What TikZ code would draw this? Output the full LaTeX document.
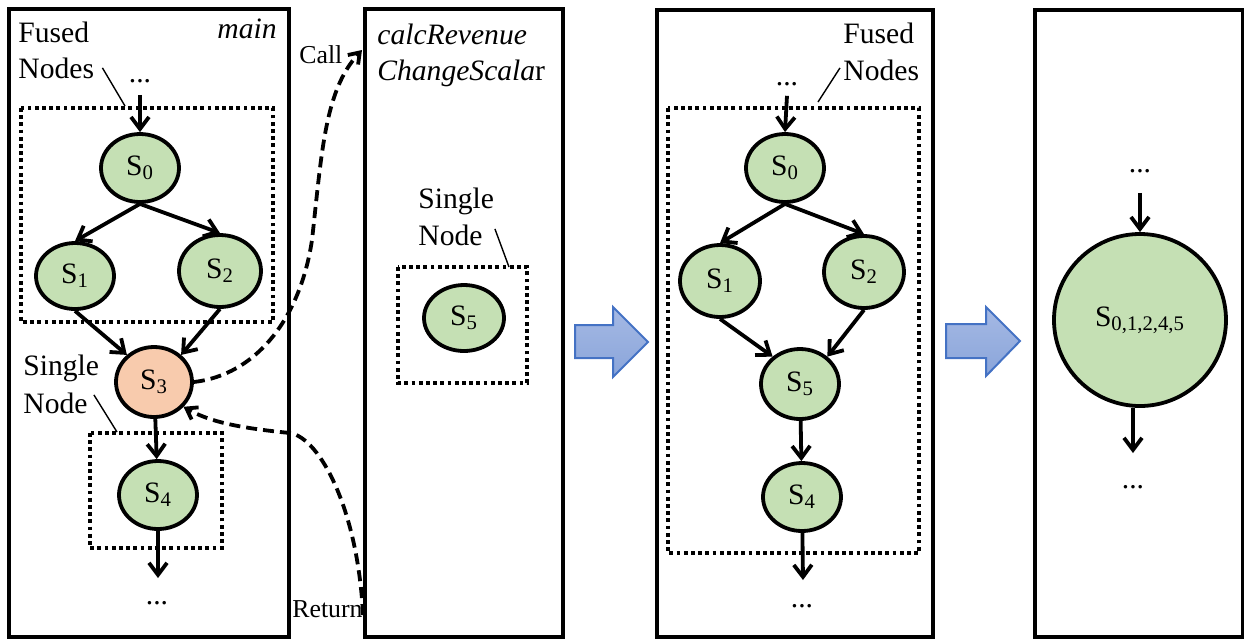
\documentclass[tikz,border=0pt]{standalone}
\usepackage{fontspec}
\setmainfont{Liberation Serif}
\usetikzlibrary{arrows.meta,shapes.geometric}
\definecolor{sgreen}{HTML}{C5E0B4}
\definecolor{sorange}{HTML}{F8CBAD}
\definecolor{blight}{HTML}{A5B9E4}
\definecolor{bdark}{HTML}{8AA5DA}
\definecolor{bdraw}{HTML}{4472C4}
\begin{document}
\begin{tikzpicture}[x=0.5pt,y=-0.5pt,
  font=\fontsize{14.8}{19}\selectfont,
  panel/.style={draw, line width=1.9pt},
  fusebox/.style={draw, line width=1.9pt, dash pattern=on 1.9pt off 1.7pt},
  snode/.style={ellipse, draw, line width=1.9pt, fill=sgreen, inner sep=0pt},
  flow/.style={line width=1.9pt, -{Straight Barb[length=6pt,width=9pt]}},
  callflow/.style={line width=1.9pt, dash pattern=on 5.5pt off 3pt, -{Straight Barb[length=5pt,width=7pt]}},
  pointer/.style={line width=0.7pt},
  txt/.style={inner sep=0pt, anchor=base west},
  smalltxt/.style={inner sep=0pt, anchor=base west, font=\fontsize{12.9}{16}\selectfont},
  dots/.style={inner sep=0pt, anchor=base},
  blockarrow/.style={draw=bdraw, line width=1pt, top color=blight, bottom color=bdark},
]
\useasboundingbox (0,0) rectangle (1244,639);

% panels
\draw[panel] (9,9) rectangle (289,637);
\draw[panel] (365,9) rectangle (563,637);
\draw[panel] (657,10) rectangle (933,637);
\draw[panel] (1035,10) rectangle (1243,637);

% ---------- panel 1 (main) ----------
\draw[fusebox] (21,108) rectangle (273,322);
\draw[fusebox] (90,433) rectangle (222,548);
\node[txt] (a-fused) at (18,42) {Fused};
\node[txt] (a-nodes) at (18,78) {Nodes};
\node[txt, anchor=base east] (a-main) at (277,38) {\textit{main}};
\node[dots] (a-top) at (140,82) {...};
\node[snode, minimum width=39pt, minimum height=34pt] (a0) at (140,168) {S\textsubscript{0}};
\node[snode, minimum width=39pt, minimum height=33pt] (a1) at (75,276) {S\textsubscript{1}};
\node[snode, minimum width=41pt, minimum height=36pt] (a2) at (220,271) {S\textsubscript{2}};
\node[snode, fill=sorange, minimum width=38pt, minimum height=35pt] (a3) at (154,382) {S\textsubscript{3}};
\node[snode, minimum width=39pt, minimum height=34pt] (a4) at (158,495) {S\textsubscript{4}};
\node[txt] (a-single) at (23,375) {Single};
\node[txt] (a-node) at (23,413) {Node};
\coordinate (a-end) at (158,578);
\node[dots] (a-bot) at (157,604) {...};
\coordinate (a-fp) at (125,106);
\coordinate (a-sp) at (117,432);
\draw[pointer] ([xshift=4pt]a-nodes.east) -- (a-fp);
\draw[pointer] ([xshift=3pt,yshift=4pt]a-node.east) -- (a-sp);
\draw[flow] ([yshift=-6pt]a-top.south) -- (a0.north);
\draw[flow] (a0.south) -- (a1.north);
\draw[flow] (a0.south) -- (a2.north);
\draw[flow] (a1.south) -- (a3.135);
\draw[flow] (a2.south) -- (a3.45);
\draw[flow] (a3) -- (a4);
\draw[flow] (a4) -- (a-end);

% call / return
\node[smalltxt] (call) at (299,63) {Call};
\node[smalltxt] (ret) at (292,617) {Return};
\coordinate (callend) at (362,50);
\coordinate (retstart) at (363,615);
\draw[callflow] (a3.east) .. controls (255,375) and (300,320) .. (312,240)
  .. controls (322,150) and (325,90) .. (callend);
\draw[callflow] (retstart) .. controls (358,510) and (320,438) .. (290,433)
  .. controls (240,428) and (210,422) .. (a3.-40);

% ---------- panel 2 ----------
\node[txt] (c-name1) at (377,44) {\textit{calcRevenue}};
\node[txt] (c-name2) at (377,80) {\textit{ChangeScala}r};
\node[txt] (c-single) at (418,208) {Single};
\node[txt] (c-node) at (418,245) {Node};
\draw[fusebox] (398,267) rectangle (527,383);
\node[snode, minimum width=40pt, minimum height=33pt] (c5) at (464,318) {S\textsubscript{5}};
\coordinate (c-sp) at (509,267);
\draw[pointer] ([xshift=6pt,yshift=3pt]c-node.east) -- (c-sp);

% block arrows
\draw[blockarrow] (575,325) -- (613,325) -- (613,307) -- (648,342) -- (613,377) -- (613,358) -- (575,358) -- cycle;
\draw[blockarrow] (946,324) -- (986,324) -- (986,307) -- (1020,341) -- (986,376) -- (986,358) -- (946,358) -- cycle;

% ---------- panel 3 ----------
\draw[fusebox] (668,108) rectangle (919,553);
\node[txt] (b-fused) at (843,43) {Fused};
\node[txt] (b-nodes) at (843,80) {Nodes};
\coordinate (b-fp) at (818,102);
\draw[pointer] ([xshift=-1.5pt,yshift=1pt]b-nodes.west) -- (b-fp);
\node[dots] (b-top) at (787,85) {...};
\node[snode, minimum width=39pt, minimum height=34pt] (b0) at (785,168) {S\textsubscript{0}};
\node[snode, minimum width=40pt, minimum height=36pt] (b1) at (720,281) {S\textsubscript{1}};
\node[snode, minimum width=40pt, minimum height=36pt] (b2) at (864,272) {S\textsubscript{2}};
\node[snode, minimum width=39pt, minimum height=35pt] (b5) at (800,384) {S\textsubscript{5}};
\node[snode, minimum width=39pt, minimum height=34pt] (b4) at (802,497) {S\textsubscript{4}};
\coordinate (b-end) at (803,580);
\node[dots] (b-bot) at (802,607) {...};
\draw[flow] ([yshift=-5pt]b-top.south) -- (b0.north);
\draw[flow] (b0.south) -- (b1.north);
\draw[flow] (b0.south) -- (b2.north);
\draw[flow] (b1.south) -- (b5.135);
\draw[flow] (b2.south) -- (b5.45);
\draw[flow] (b5) -- (b4);
\draw[flow] (b4) -- (b-end);

% ---------- panel 4 ----------
\node[dots] (d-top) at (1140,172) {...};
\node[snode, minimum width=86pt, minimum height=86pt] (d0) at (1140,320) {S\textsubscript{0,1,2,4,5}};
\coordinate (d-end) at (1133,453);
\node[dots] (d-bot) at (1133,488) {...};
\draw[flow] ([yshift=-10pt]d-top.south) -- (d0.north);
\draw[flow] (d0.south -| d-end) -- (d-end);
\end{tikzpicture}
\end{document}
